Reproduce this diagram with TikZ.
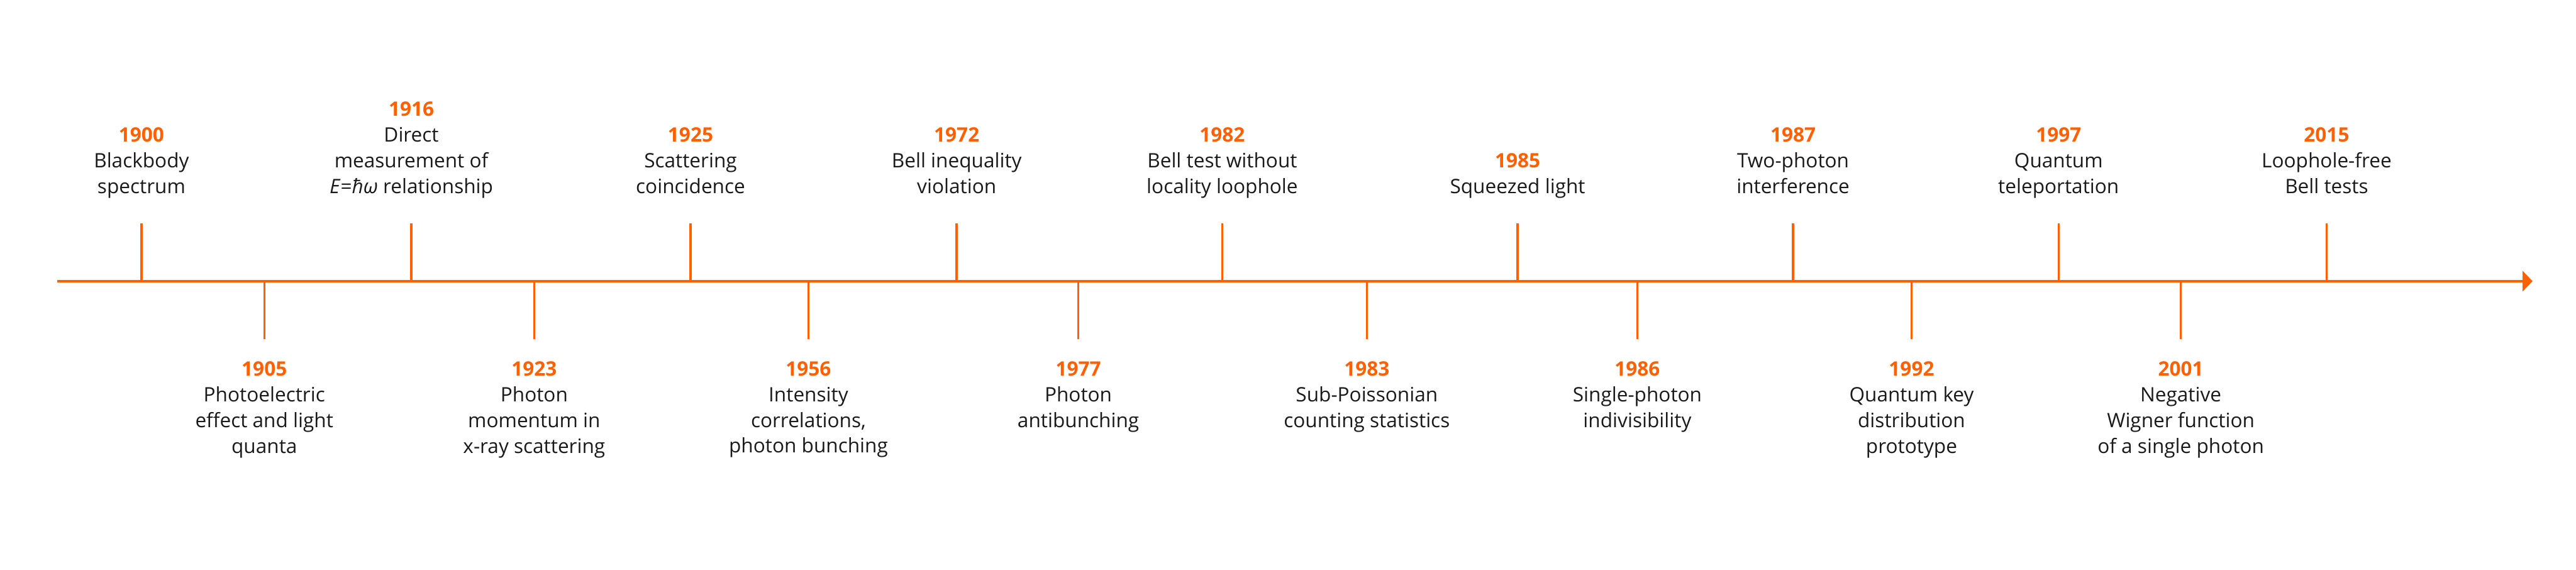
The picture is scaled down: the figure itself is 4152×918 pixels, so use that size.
\documentclass[tikz,border=0pt]{standalone}
\usepackage{fontspec}
\setmainfont{Open Sans}
\usetikzlibrary{positioning,arrows.meta}
\definecolor{tlorange}{HTML}{FF6000}
\definecolor{tltext}{HTML}{1A1A1A}

\begin{document}
\begin{tikzpicture}[
			x=0.01cm, y=-0.01cm,
			every node/.style={
					align=center,
					inner sep=0pt,
					text=tltext,
					font=\fontsize{9.1pt}{11.8pt}\selectfont
				},
			axisline/.style={draw=tlorange, line width=0.04cm},
			tick/.style={draw=tlorange, line width=0.035cm}
		]

		\useasboundingbox (0,0) rectangle (4152,918);

		% time axis
		\coordinate (start) at (92,453);
		\coordinate (end) at (4082,453);
		\draw[axisline,-{Triangle[length=0.16cm,width=0.32cm]}] (start) -- (end);

		% events above the axis
		\coordinate (a1900) at (228,453);
		\coordinate (t1900) at (228,360);
		\draw[tick] (a1900) -- (t1900);
		\node (y1900) [above=0.35cm of t1900]
		{{\bfseries\color{tlorange}1900}\\Blackbody\\spectrum\strut};

		\coordinate (a1916) at (663,453);
		\coordinate (t1916) at (663,360);
		\draw[tick] (a1916) -- (t1916);
		\node (y1916) [above=0.35cm of t1916]
		{{\bfseries\color{tlorange}1916}\\Direct\\measurement of\\\textit{E}=\textit{ħω} relationship\strut};

		\coordinate (a1925) at (1113,453);
		\coordinate (t1925) at (1113,360);
		\draw[tick] (a1925) -- (t1925);
		\node (y1925) [above=0.35cm of t1925]
		{{\bfseries\color{tlorange}1925}\\Scattering\\coincidence\strut};

		\coordinate (a1972) at (1542,453);
		\coordinate (t1972) at (1542,360);
		\draw[tick] (a1972) -- (t1972);
		\node (y1972) [above=0.35cm of t1972]
		{{\bfseries\color{tlorange}1972}\\Bell inequality\\violation\strut};

		\coordinate (a1982) at (1970,453);
		\coordinate (t1982) at (1970,360);
		\draw[tick] (a1982) -- (t1982);
		\node (y1982) [above=0.35cm of t1982]
		{{\bfseries\color{tlorange}1982}\\Bell test without\\locality loophole\strut};

		\coordinate (a1985) at (2446,453);
		\coordinate (t1985) at (2446,360);
		\draw[tick] (a1985) -- (t1985);
		\node (y1985) [above=0.35cm of t1985]
		{{\bfseries\color{tlorange}1985}\\Squeezed light\strut};

		\coordinate (a1987) at (2890,453);
		\coordinate (t1987) at (2890,360);
		\draw[tick] (a1987) -- (t1987);
		\node (y1987) [above=0.35cm of t1987]
		{{\bfseries\color{tlorange}1987}\\Two-photon\\interference\strut};

		\coordinate (a1997) at (3318,453);
		\coordinate (t1997) at (3318,360);
		\draw[tick] (a1997) -- (t1997);
		\node (y1997) [above=0.35cm of t1997]
		{{\bfseries\color{tlorange}1997}\\Quantum\\teleportation\strut};

		\coordinate (a2015) at (3750,453);
		\coordinate (t2015) at (3750,360);
		\draw[tick] (a2015) -- (t2015);
		\node (y2015) [above=0.35cm of t2015]
		{{\bfseries\color{tlorange}2015}\\Loophole-free\\Bell tests\strut};

		% events below the axis
		\coordinate (a1905) at (426,453);
		\coordinate (t1905) at (426,546);
		\draw[tick] (a1905) -- (t1905);
		\node (y1905) [below=0.355cm of t1905]
		{{\bfseries\color{tlorange}1905}\\Photoelectric\\effect and light\\quanta};

		\coordinate (a1923) at (861,453);
		\coordinate (t1923) at (861,546);
		\draw[tick] (a1923) -- (t1923);
		\node (y1923) [below=0.355cm of t1923]
		{{\bfseries\color{tlorange}1923}\\Photon\\momentum in\\x-ray scattering};

		\coordinate (a1956) at (1303,453);
		\coordinate (t1956) at (1303,546);
		\draw[tick] (a1956) -- (t1956);
		\node (y1956) [below=0.355cm of t1956]
		{{\bfseries\color{tlorange}1956}\\Intensity\\correlations,\\photon bunching};

		\coordinate (a1977) at (1738,453);
		\coordinate (t1977) at (1738,546);
		\draw[tick] (a1977) -- (t1977);
		\node (y1977) [below=0.355cm of t1977]
		{{\bfseries\color{tlorange}1977}\\Photon\\antibunching};

		\coordinate (a1983) at (2203,453);
		\coordinate (t1983) at (2203,546);
		\draw[tick] (a1983) -- (t1983);
		\node (y1983) [below=0.355cm of t1983]
		{{\bfseries\color{tlorange}1983}\\Sub-Poissonian\\counting statistics};

		\coordinate (a1986) at (2639,453);
		\coordinate (t1986) at (2639,546);
		\draw[tick] (a1986) -- (t1986);
		\node (y1986) [below=0.355cm of t1986]
		{{\bfseries\color{tlorange}1986}\\Single-photon\\indivisibility};

		\coordinate (a1992) at (3081,453);
		\coordinate (t1992) at (3081,546);
		\draw[tick] (a1992) -- (t1992);
		\node (y1992) [below=0.355cm of t1992]
		{{\bfseries\color{tlorange}1992}\\Quantum key\\distribution\\prototype};

		\coordinate (a2001) at (3515,453);
		\coordinate (t2001) at (3515,546);
		\draw[tick] (a2001) -- (t2001);
		\node (y2001) [below=0.355cm of t2001]
		{{\bfseries\color{tlorange}2001}\\Negative\\Wigner function\\of a single photon};

	\end{tikzpicture}
\end{document}
